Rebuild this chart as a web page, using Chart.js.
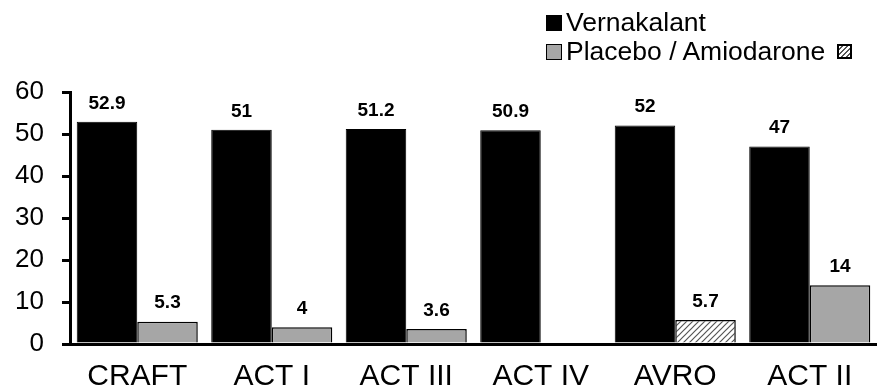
<!DOCTYPE html>
<html>
<head>
<meta charset="utf-8">
<script src="https://cdn.jsdelivr.net/npm/chart.js@4.4.1/dist/chart.umd.min.js"></script>
<style>
  html, body { margin: 0; padding: 0; background: #fff; }
  #wrap { position: relative; width: 877px; height: 391px; }
  #legend { position: absolute; left: 546px; top: 8px; font-family: "Liberation Sans", Arial, sans-serif; font-size: 26.5px; color: #000; line-height: 29px; }
  .row { display: flex; align-items: center; }
  .box { width: 14px; height: 14px; border: 1px solid #000; margin-right: 4px; display: inline-block; }
  .hatch { background: repeating-linear-gradient(135deg, #fff 0 2px, #555 2px 3.5px); width: 11px; height: 11px; border: 2px solid #000; margin-left: 12px; display: inline-block; }
</style>
</head>
<body>
<div id="wrap">
  <canvas id="chart" width="877" height="391"></canvas>
  <div id="legend">
    <div class="row"><span class="box" style="background:#000"></span>Vernakalant</div>
    <div class="row"><span class="box" style="background:#a6a6a6"></span>Placebo / Amiodarone<span class="hatch"></span></div>
  </div>
</div>
<script>
const trials = ['CRAFT', 'ACT I', 'ACT III', 'ACT IV', 'AVRO', 'ACT II'];
const vernakalant = [52.9, 51, 51.2, 50.9, 52, 47];
const comparator = [5.3, 4, 3.6, null, 5.7, 14];
const yTicks = [0, 10, 20, 30, 40, 50, 60];

// hatched fill for the amiodarone bar (AVRO)
const makeHatch = () => {
    const c = document.createElement('canvas');
    c.width = 6; c.height = 6;
    const g = c.getContext('2d');
    g.fillStyle = '#fff';
    g.fillRect(0, 0, 6, 6);
    g.strokeStyle = '#555';
    g.lineWidth = 1.2;
    g.beginPath();
    g.moveTo(0, 6); g.lineTo(6, 0);
    g.moveTo(-1, 1); g.lineTo(1, -1);
    g.moveTo(5, 7); g.lineTo(7, 5);
    g.stroke();
    return g.createPattern(c, 'repeat');
};
const hatch = makeHatch();
const compColors = trials.map(t => t === 'AVRO' ? hatch : '#a6a6a6');

const valueLabels = {
    id: 'valueLabels',
    afterDatasetsDraw(chart) {
        const ctx = chart.ctx;
        ctx.save();
        ctx.font = 'bold 19px "Liberation Sans", Arial, sans-serif';
        ctx.fillStyle = '#000';
        ctx.textAlign = 'center';
        ctx.textBaseline = 'bottom';
        chart.data.datasets.forEach((ds, i) => {
            chart.getDatasetMeta(i).data.forEach((bar, j) => {
                const v = ds.data[j];
                if (v === null) return;
                ctx.fillText(String(v), bar.x, bar.y - 9);
            });
        });
        ctx.restore();
    }
};

const ctx = document.getElementById('chart').getContext('2d');
const myChart = new Chart(ctx, {
    type: 'bar',
    data: {
        labels: trials,
        datasets: [{
            label: 'Vernakalant',
            data: vernakalant,
            backgroundColor: '#000',
            borderColor: '#000',
            borderWidth: 1
        }, {
            label: 'Placebo / Amiodarone',
            data: comparator,
            backgroundColor: compColors,
            borderColor: '#000',
            borderWidth: 1.5
        }]
    },
    options: {
        responsive: false,
        animation: false,
        layout: { padding: { top: 92, right: 0, left: 0, bottom: 0 } },
        categoryPercentage: 0.9,
        barPercentage: 1,
        plugins: {
            legend: { display: false },
            tooltip: { enabled: false }
        },
        scales: {
            x: {
                grid: { display: false },
                border: { display: true, color: '#000', width: 3 },
                ticks: { color: '#000', font: { family: '"Liberation Sans", Arial, sans-serif', size: 30 }, padding: 7 },
                afterFit: (s) => { s.height = 47; }
            },
            y: {
                min: 0,
                max: 60,
                afterBuildTicks: (s) => { s.ticks = yTicks.map(v => ({ value: v })); },
                grid: { drawOnChartArea: false, drawTicks: true, tickLength: 8, color: '#000', lineWidth: 3 },
                border: { display: true, color: '#000', width: 3 },
                ticks: { color: '#000', font: { family: '"Liberation Sans", Arial, sans-serif', size: 26 }, padding: 18 },
                afterFit: (s) => { s.width = 70; }
            }
        }
    },
    plugins: [valueLabels]
});
</script>
</body>
</html>
